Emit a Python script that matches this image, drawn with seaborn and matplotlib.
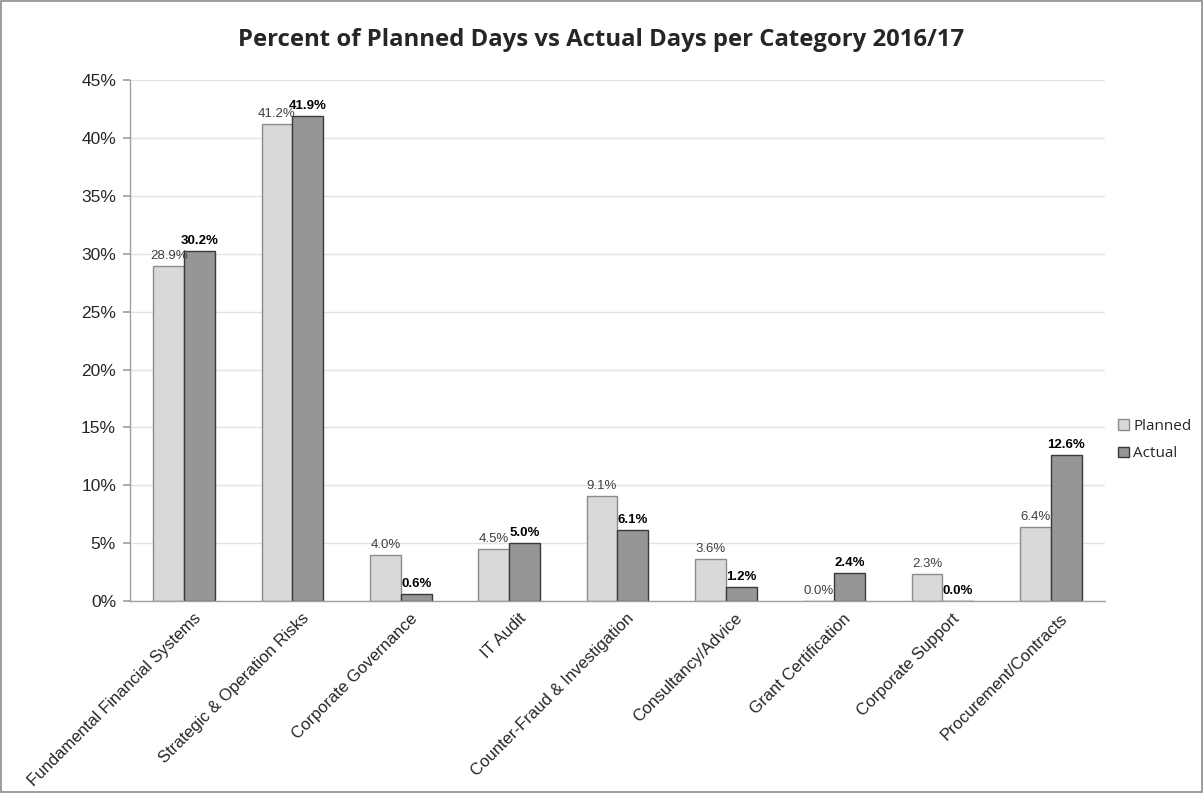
import matplotlib
matplotlib.use("Agg")
import matplotlib.pyplot as plt
import matplotlib.transforms as mtransforms
import seaborn as sns
import pandas as pd
import numpy as np
from matplotlib.ticker import FuncFormatter, FixedLocator
from matplotlib.patches import Rectangle

categories = [
    "Fundamental Financial Systems",
    "Strategic & Operation Risks",
    "Corporate Governance",
    "IT Audit",
    "Counter-Fraud & Investigation",
    "Consultancy/Advice",
    "Grant Certification",
    "Corporate Support",
    "Procurement/Contracts",
]
planned = [28.9, 41.2, 4.0, 4.5, 9.1, 3.6, 0.0, 2.3, 6.4]
actual = [30.2, 41.9, 0.6, 5.0, 6.1, 1.2, 2.4, 0.0, 12.6]
series = ["Planned", "Actual"]

df = pd.DataFrame({
    "Category": categories * 2,
    "Series": [series[0]] * len(categories) + [series[1]] * len(categories),
    "Value": planned + actual,
})

sns.set_theme(style="white")
plt.rcParams["font.family"] = ["Liberation Sans", "DejaVu Sans"]

fig = plt.figure(figsize=(12.03, 7.93), dpi=100)
ax = fig.add_axes([0.108, 0.242, 0.8105, 0.657])

palette = {"Planned": "#d9d9d9", "Actual": "#969696"}
sns.barplot(data=df, x="Category", y="Value", hue="Series", order=categories,
            hue_order=series, palette=palette, width=0.57, ax=ax,
            saturation=1, legend=False)

edge = {"Planned": "#8c8c8c", "Actual": "#3a3a3a"}
for cont, name in zip(ax.containers, series):
    for bar in cont:
        bar.set_edgecolor(edge[name])
        bar.set_linewidth(1.0)
    ax.bar_label(cont, labels=[f"{v:.1f}%" for v in cont.datavalues],
                 padding=3, fontsize=9.5,
                 color="#000000" if name == "Actual" else "#404040",
                 fontweight="bold" if name == "Actual" else "normal")

ax.set_ylim(0, 45)
ax.set_xlim(-0.5, len(categories) - 0.5)
ax.yaxis.set_major_locator(FixedLocator(np.arange(0, 46, 5)))
ax.yaxis.set_major_formatter(FuncFormatter(lambda v, p: f"{v:.0f}%"))
ax.yaxis.grid(True, color="#e3e3e3", linewidth=1)
ax.set_axisbelow(True)
ax.set_xlabel("")
ax.set_ylabel("")

ax.set_xticks(np.arange(len(categories)))
ax.set_xticklabels(categories, rotation=45, ha="right", rotation_mode="anchor",
                   fontsize=12)
ax.tick_params(axis="x", length=0, pad=7)
shift = mtransforms.ScaledTranslation(9 / 100, 0, fig.dpi_scale_trans)
for lbl in ax.get_xticklabels():
    lbl.set_transform(lbl.get_transform() + shift)
ax.set_xticks(np.arange(-0.5, len(categories), 1), minor=True)
ax.tick_params(axis="x", which="minor", length=5, color="#a0a0a0", width=1)
ax.tick_params(axis="y", labelsize=12.5, length=5, color="#a0a0a0", left=True, pad=5)

for side in ["top", "right"]:
    ax.spines[side].set_visible(False)
for side in ["left", "bottom"]:
    ax.spines[side].set_color("#a0a0a0")
    ax.spines[side].set_linewidth(1)

fig.suptitle("Percent of Planned Days vs Actual Days per Category 2016/17",
             x=0.5, y=0.965, fontsize=17.2, fontweight="bold",
             family=["Open Sans", "DejaVu Sans"])

handles = [Rectangle((0, 0), 1, 1, facecolor=palette[s], edgecolor=edge[s]) for s in series]
fig.legend(handles, series, loc="center left", bbox_to_anchor=(0.918, 0.445),
           frameon=False, handlelength=0.7, handleheight=0.7,
           handletextpad=0.3, labelspacing=0.8,
           prop={"family": ["Open Sans", "DejaVu Sans"], "size": 11})

fig.patches.append(Rectangle((0.001, 0.001), 0.998, 0.998, transform=fig.transFigure,
                             fill=False, edgecolor="#8c8c8c", linewidth=1.2))

fig.savefig("out.png", dpi=100)
